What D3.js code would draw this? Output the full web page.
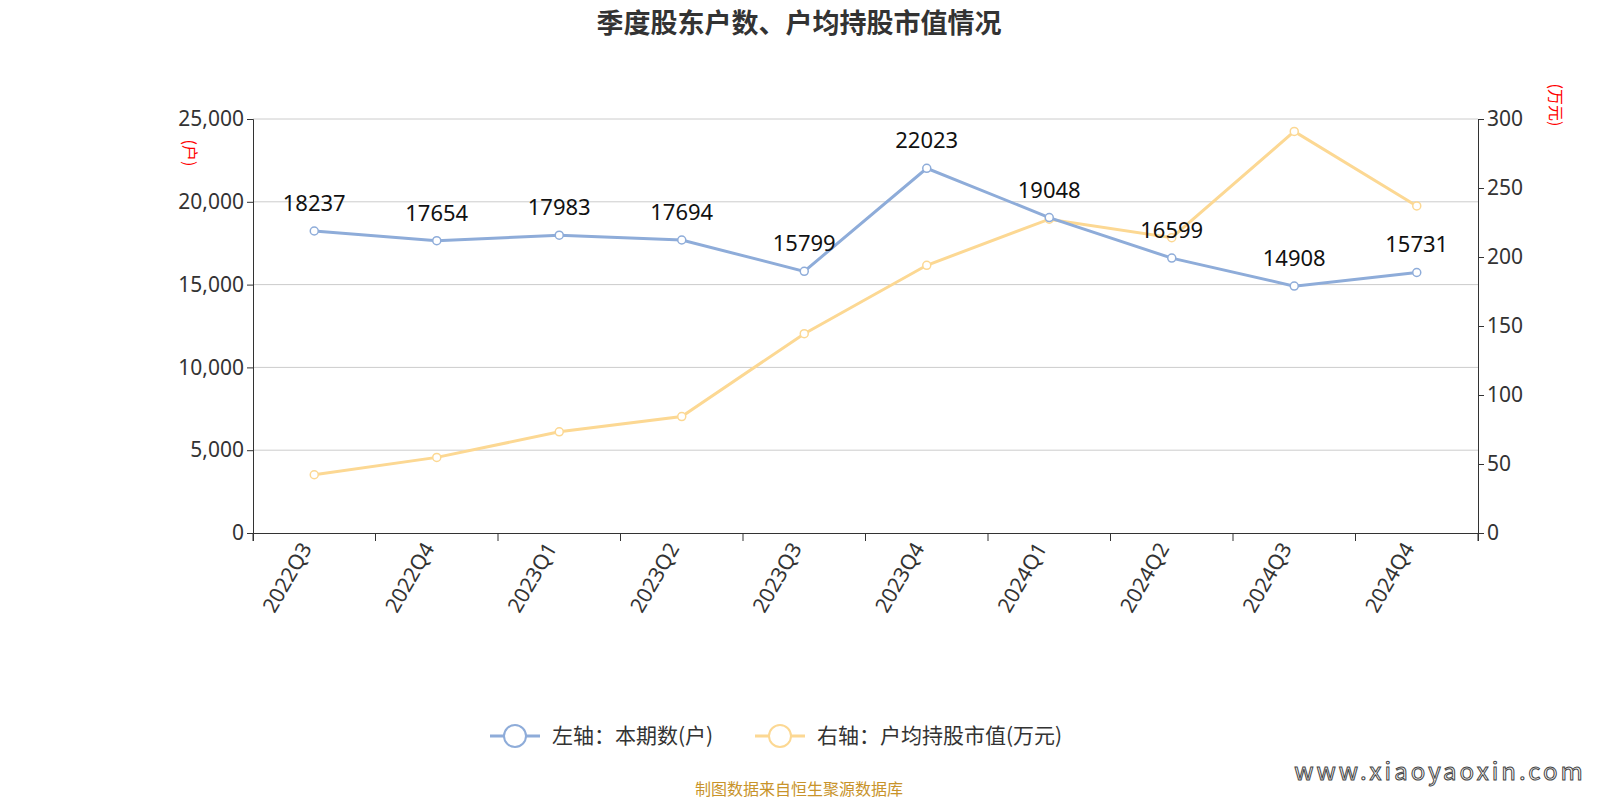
<!DOCTYPE html>
<html><head><meta charset="utf-8">
<script src="https://cdn.jsdelivr.net/npm/d3@7"></script>
<style>body{margin:0;background:#fff;font-family:"Noto Sans CJK SC","Noto Sans",sans-serif;overflow:hidden;}</style>
</head><body><div id="chart"></div>
<script>
var quarters = ["2022Q3","2022Q4","2023Q1","2023Q2","2023Q3","2023Q4","2024Q1","2024Q2","2024Q3","2024Q4"];
var holders = [18237,17654,17983,17694,15799,22023,19048,16599,14908,15731];
var avgValue = [42.2,54.8,73.3,84.4,144.4,194,227.4,214,291,237];
var leftTicks = [0,5000,10000,15000,20000,25000];
var rightTicks = [0,50,100,150,200,250,300];

var w = 1600, h = 800;
var margin = {top: 119, right: 122, bottom: 267, left: 253};
var innerWidth = w - margin.left - margin.right;
var innerHeight = h - margin.top - margin.bottom;
var blue = "#8eacd9", yellow = "#fcd893";

var svg = d3.select("#chart").append("svg").attr("width", w).attr("height", h);
var g = svg.append("g").attr("transform", `translate(${margin.left},${margin.top})`);

var x = d3.scaleBand().domain(quarters).range([0, innerWidth]);
var yL = d3.scaleLinear().domain([0, 25000]).range([innerHeight, 0]);
var yR = d3.scaleLinear().domain([0, 300]).range([innerHeight, 0]);
var cx = d => x(d) + x.bandwidth() / 2;

// grid
g.selectAll(".grid").data(leftTicks.slice(1)).enter().append("line")
    .attr("x1", 0).attr("x2", innerWidth)
    .attr("y1", d => yL(d)).attr("y2", d => yL(d))
    .attr("stroke", "#ccc");

// axes
var fmt = d3.format(",");
var la = g.append("g").call(d3.axisLeft(yL).tickValues(leftTicks).tickFormat(fmt).tickSize(6));
var ra = g.append("g").attr("transform", `translate(${innerWidth},0)`).call(d3.axisRight(yR).tickValues(rightTicks).tickSize(6));
var xa = g.append("g").attr("transform", `translate(0,${innerHeight})`).call(d3.axisBottom(x).tickSize(8).tickSizeOuter(8));
xa.selectAll(".tick line").attr("transform", `translate(${-x.bandwidth()/2},0)`);
xa.append("line").attr("x1", innerWidth).attr("x2", innerWidth).attr("y1", 0).attr("y2", 8).attr("stroke", "#333");
[la, ra, xa].forEach(a => {
    a.selectAll("path,line").attr("stroke", "#333");
    a.selectAll("text").attr("fill", "#333").style("font-size", "21px").style("font-family", "Noto Sans, sans-serif");
});
xa.selectAll("text").attr("transform", "translate(-6,8) rotate(-60)").style("text-anchor", "end").attr("dy", "0.35em").attr("y", 0).attr("x", -4);

// unit labels
svg.append("text").attr("transform", "translate(184,153) rotate(90)").attr("fill", "red")
    .style("font-size", "16px").attr("text-anchor", "middle").text("(户)");
svg.append("text").attr("transform", "translate(1550,105) rotate(90)").attr("fill", "red")
    .style("font-size", "16px").attr("text-anchor", "middle").text("(万元)");

function series(vals, y, color) {
    g.append("path").datum(vals)
        .attr("fill", "none").attr("stroke", color).attr("stroke-width", 3)
        .attr("d", d3.line().x((d, i) => cx(quarters[i])).y(d => y(d)));
    g.selectAll(null).data(vals).enter().append("circle")
        .attr("cx", (d, i) => cx(quarters[i])).attr("cy", d => y(d)).attr("r", 4)
        .attr("fill", "#fff").attr("stroke", color).attr("stroke-width", 1.5);
}
series(avgValue, yR, yellow);
series(holders, yL, blue);

g.selectAll(".lbl").data(holders).enter().append("text")
    .attr("x", (d, i) => cx(quarters[i])).attr("y", d => yL(d) - 20)
    .attr("text-anchor", "middle").style("font-size", "22px").style("font-family", "Noto Sans, sans-serif")
    .attr("fill", "#111").text(d => d);

// title
svg.append("text").attr("x", 799).attr("y", 33).attr("text-anchor", "middle")
    .style("font-size", "27px").style("font-weight", "bold").attr("fill", "#333").text("季度股东户数、户均持股市值情况");

// legend
var legend = [{t: "左轴：本期数(户)", c: blue, x: 490}, {t: "右轴：户均持股市值(万元)", c: yellow, x: 755}];
legend.forEach(l => {
    var lg = svg.append("g").attr("transform", `translate(${l.x},736)`);
    lg.append("line").attr("x1", 0).attr("x2", 50).attr("stroke", l.c).attr("stroke-width", 3);
    lg.append("circle").attr("cx", 25).attr("r", 11).attr("fill", "#fff").attr("stroke", l.c).attr("stroke-width", 2);
    lg.append("text").attr("x", 62).attr("dy", "0.35em").style("font-size", "21px").attr("fill", "#333").text(l.t);
});

svg.append("text").attr("x", 799).attr("y", 795).attr("text-anchor", "middle")
    .style("font-size", "16px").attr("fill", "#c8932a").text("制图数据来自恒生聚源数据库");
svg.append("text").attr("x", 1440).attr("y", 780).attr("text-anchor", "middle")
    .style("font-size", "24px").style("letter-spacing", "3px").attr("fill", "#fff")
    .attr("stroke", "#444").attr("stroke-width", 1).text("www.xiaoyaoxin.com");
</script></body></html>
